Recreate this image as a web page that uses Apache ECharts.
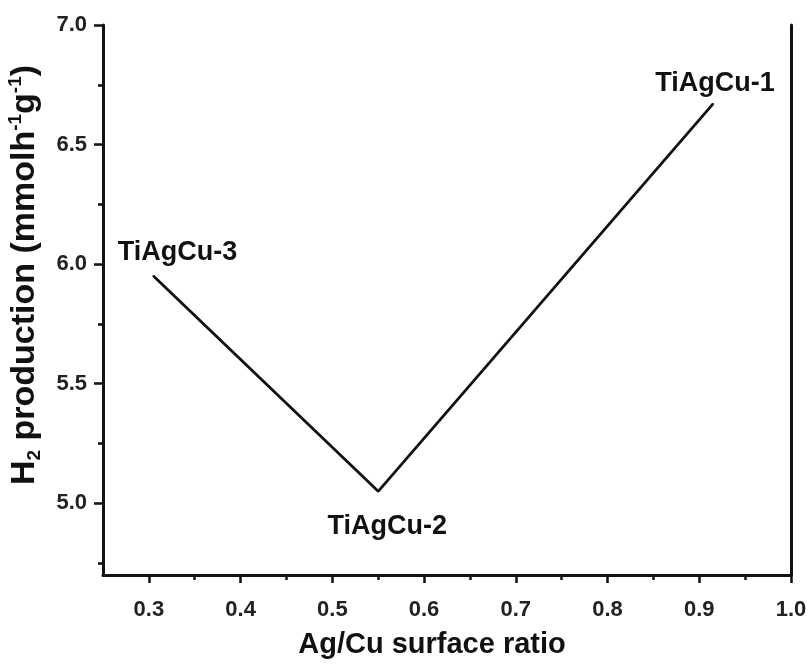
<!DOCTYPE html>
<html>
<head>
<meta charset="utf-8">
<script src="https://cdn.jsdelivr.net/npm/echarts@6/dist/echarts.min.js"></script>
<style>
  html, body { margin: 0; background: #fff; }
  #chart { width: 808px; height: 664px; }
</style>
</head>
<body>
<div id="chart"></div>
<script>
// data
const sampleNames = ['TiAgCu-3', 'TiAgCu-2', 'TiAgCu-1']
const agCuRatio = [0.305, 0.55, 0.915]
const h2Production = [5.95, 5.05, 6.67]

const xMajorTicks = [0.3, 0.4, 0.5, 0.6, 0.7, 0.8, 0.9, 1.0]
const xMinorTicks = [0.35, 0.45, 0.55, 0.65, 0.75, 0.85, 0.95]
const yMajorTicks = [5.0, 5.5, 6.0, 6.5, 7.0]
const yMinorTicks = [4.75, 5.25, 5.75, 6.25, 6.75]

// where each sample label sits relative to its point
const labelPlacement = [
  { position: 'top', offset: [24, -4] },
  { position: 'bottom', offset: [9, 16] },
  { position: 'top', offset: [2, -1] }
]

const FONT = '"Liberation Sans", Arial, sans-serif'
const INK = '#111'
const X_RANGE = { min: 0.25, max: 1.0 }
const Y_RANGE = { min: 4.7, max: 7.0 }
const gridBox = { left: 103, right: 17, top: 25, bottom: 89, containLabel: false, outerBoundsMode: 'none' }

const tickLabel = {
  fontFamily: FONT,
  fontWeight: 'bold',
  fontSize: 22,
  color: '#222'
}

const chart = echarts.init(document.getElementById('chart'))

chart.setOption({
  backgroundColor: '#fff',
  animation: false,
  grid: [
    Object.assign({}, gridBox),
    Object.assign({}, gridBox)
  ],
  xAxis: [
    {
      type: 'value',
      gridIndex: 0,
      position: 'bottom',
      ...X_RANGE,
      name: 'Ag/Cu surface ratio',
      nameLocation: 'middle',
      nameGap: 55,
      nameTextStyle: { fontFamily: FONT, fontWeight: 'bold', fontSize: 29, color: '#111', padding: [0, 30, 0, 0] },
      axisLine: { lineStyle: { color: INK, width: 3 } },
      axisTick: { inside: false, length: 8, lineStyle: { color: INK, width: 2.5 }, customValues: xMajorTicks },
      axisLabel: Object.assign({ margin: 24, customValues: xMajorTicks, formatter: v => v.toFixed(1) }, tickLabel),
      splitLine: { show: false }
    },
    {
      // minor ticks only
      type: 'value',
      gridIndex: 1,
      position: 'bottom',
      ...X_RANGE,
      axisLine: { show: false },
      axisTick: { inside: false, length: 5, lineStyle: { color: INK, width: 2.5 }, customValues: xMinorTicks },
      axisLabel: { show: false },
      splitLine: { show: false }
    }
  ],
  yAxis: [
    {
      type: 'value',
      gridIndex: 0,
      position: 'left',
      ...Y_RANGE,
      name: 'H{sub|2} production (mmolh{sup|-1}g{sup|-1})',
      nameLocation: 'middle',
      nameRotate: 90,
      nameGap: 59,
      nameTextStyle: {
        fontFamily: FONT, fontWeight: 'bold', fontSize: 34, color: '#111', lineHeight: 38,
        padding: [0, 0, 0, 50],
        rich: {
          sub: { fontFamily: FONT, fontWeight: 'bold', fontSize: 19, lineHeight: 18, color: '#111', verticalAlign: 'bottom' },
          sup: { fontFamily: FONT, fontWeight: 'bold', fontSize: 19, lineHeight: 18, color: '#111', verticalAlign: 'top' }
        }
      },
      axisLine: { show: true, lineStyle: { color: INK, width: 3 } },
      axisTick: { show: true, inside: false, length: 9, lineStyle: { color: INK, width: 2.5 }, customValues: yMajorTicks },
      axisLabel: Object.assign({ margin: 16, customValues: yMajorTicks, formatter: v => v.toFixed(1) }, tickLabel),
      splitLine: { show: false }
    },
    {
      // right frame line
      type: 'value',
      gridIndex: 0,
      position: 'right',
      ...Y_RANGE,
      axisLine: { show: true, lineStyle: { color: INK, width: 3 } },
      axisTick: { show: false },
      axisLabel: { show: false },
      splitLine: { show: false }
    },
    {
      // minor ticks only
      type: 'value',
      gridIndex: 1,
      position: 'left',
      ...Y_RANGE,
      axisLine: { show: false },
      axisTick: { show: true, inside: false, length: 5, lineStyle: { color: INK, width: 2.5 }, customValues: yMinorTicks },
      axisLabel: { show: false },
      splitLine: { show: false }
    }
  ],
  series: [
    {
      type: 'line',
      xAxisIndex: 0,
      yAxisIndex: 0,
      symbol: 'circle',
      symbolSize: 2,
      itemStyle: { color: INK },
      lineStyle: { color: INK, width: 2.8 },
      label: {
        show: true,
        formatter: p => p.name,
        fontFamily: FONT,
        fontWeight: 'bold',
        fontSize: 27,
        color: '#111'
      },
      data: agCuRatio.map((x, i) => ({
        name: sampleNames[i],
        value: [x, h2Production[i]],
        label: labelPlacement[i]
      }))
    }
  ]
})
</script>
</body>
</html>
